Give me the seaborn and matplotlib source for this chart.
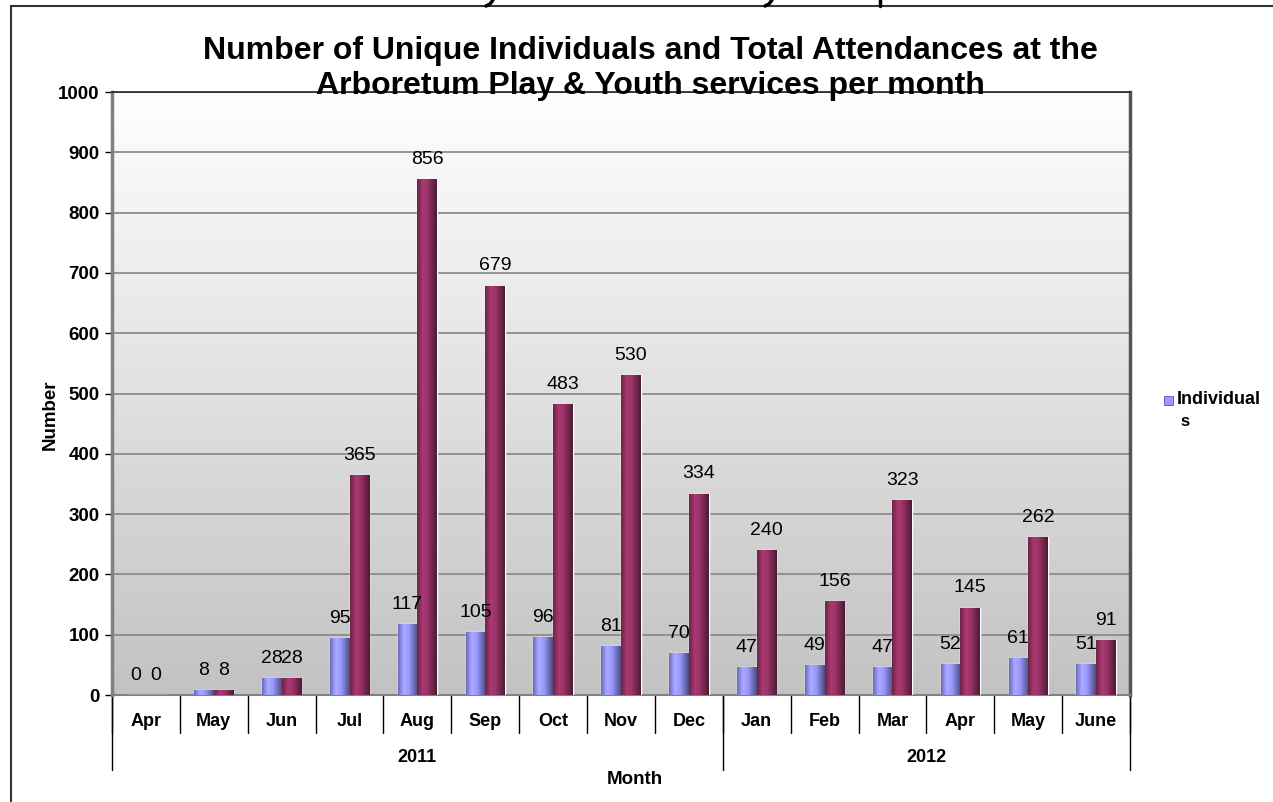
import numpy as np
import pandas as pd
import matplotlib
matplotlib.use("Agg")
import matplotlib.pyplot as plt
import seaborn as sns
from matplotlib.lines import Line2D
from matplotlib.patches import Rectangle
from matplotlib.colors import to_rgb, LinearSegmentedColormap

# ---- data ----
months = ['Apr', 'May', 'Jun', 'Jul', 'Aug', 'Sep', 'Oct', 'Nov', 'Dec',
          'Jan', 'Feb', 'Mar', 'Apr', 'May', 'June']
years = ['2011'] * 9 + ['2012'] * 6
individuals = [0, 8, 28, 95, 117, 105, 96, 81, 70, 47, 49, 47, 52, 61, 51]
attendances = [0, 8, 28, 365, 856, 679, 483, 530, 334, 240, 156, 323, 145, 262, 91]
year_labels = ['2011', '2012']

periods = [f'{m} {y}' for m, y in zip(months, years)]
df = pd.DataFrame({
    'Period': periods * 2,
    'Number': individuals + attendances,
    'Series': ['Individuals'] * len(periods) + ['Attendances'] * len(periods),
})

blue = '#9999ff'
maroon = '#993366'

sns.set_style('white')
plt.rcParams['font.family'] = ['Liberation Sans', 'DejaVu Sans']
plt.rcParams['text.color'] = 'black'
plt.rcParams['ytick.labelcolor'] = 'black'

W, H = 1273, 802
fig = plt.figure(figsize=(W / 100, H / 100), dpi=100)
ax = fig.add_axes([112 / W, 1 - 695 / H, (1130 - 112) / W, (695 - 92) / H])

sns.barplot(data=df, x='Period', y='Number', hue='Series', order=periods,
            hue_order=['Individuals', 'Attendances'], palette=[blue, maroon],
            width=0.58, ax=ax, legend=False, saturation=1, zorder=3)

# background gradient of the plot area
grad = np.linspace(1, 0, 256).reshape(-1, 1)
ax.imshow(grad, cmap=LinearSegmentedColormap.from_list('bg', ['#c2c2c2', '#ffffff']),
          aspect='auto', extent=[-0.5, len(periods) - 0.5, 0, 1000], zorder=0,
          origin='upper', vmin=0, vmax=1)
ax.set_xlim(-0.5, len(periods) - 0.5)
ax.set_ylim(0, 1000)

# cylinder-like shading on each bar
t = np.linspace(0, 1, 64)
shade = np.interp(t, [0, 0.3, 0.55, 1], [0.7, 1.12, 1.0, 0.5])
for cont, col in zip(ax.containers, [blue, maroon]):
    base = np.array(to_rgb(col))
    img = np.clip(shade[:, None] * base[None, :], 0, 1)[None, :, :]
    for p in cont.patches:
        x0, y0 = p.get_x(), p.get_y()
        w, h = p.get_width(), p.get_height()
        if h <= 0:
            continue
        im = ax.imshow(img, extent=[x0, x0 + w, y0, y0 + h], aspect='auto',
                       zorder=3.5, interpolation='bilinear')
        im.set_clip_path(p)
    ax.bar_label(cont, padding=8, fontsize=14, color='black', zorder=5)

# y axis
ax.set_yticks(range(0, 1001, 100))
ax.yaxis.grid(True, color='#8c8c8c', linewidth=1.3, zorder=1)
ax.set_axisbelow(True)
ax.tick_params(axis='y', which='both', left=True, length=5, width=1,
               direction='out', labelsize=13.5, pad=4, color='black',
               labelcolor='black')
for lab in ax.get_yticklabels():
    lab.set_fontweight('bold')
ax.set_ylabel('')
ax.set_xlabel('')
ax.set_xticks([])

for side in ['left', 'right', 'top', 'bottom']:
    ax.spines[side].set_visible(True)
ax.spines['top'].set_color('#222222')
ax.spines['top'].set_linewidth(1.2)
ax.spines['left'].set_color('#808080')
ax.spines['left'].set_linewidth(2.5)
ax.spines['right'].set_color('#555555')
ax.spines['right'].set_linewidth(2.5)
ax.spines['bottom'].set_color('#808080')
ax.spines['bottom'].set_linewidth(1.5)

# multi-level category axis
trans = ax.get_xaxis_transform()
ph = 695 - 92
for i, m in enumerate(months):
    ax.text(i, -(722 - 695) / ph, m, transform=trans, ha='center', va='center',
            fontsize=13, fontweight='bold')
for b in np.arange(-0.5, len(months), 1.0):
    ax.plot([b, b], [0, -(733 - 695) / ph], transform=trans, color='black',
            linewidth=1, clip_on=False)
year_bounds = [-0.5, 8.5, len(months) - 0.5]
for b in year_bounds:
    ax.plot([b, b], [0, -(770 - 695) / ph], transform=trans, color='black',
            linewidth=1, clip_on=False)
for k, yl in enumerate(year_labels):
    ax.text((year_bounds[k] + year_bounds[k + 1]) / 2, -(757 - 695) / ph, yl,
            transform=trans, ha='center', va='center', fontsize=13,
            fontweight='bold')

fig.text(635 / W, 1 - 779 / H, 'Month', ha='center', va='center',
         fontsize=13.5, fontweight='bold')
fig.text(50 / W, 1 - 415 / H, 'Number', ha='center', va='center',
         rotation=90, fontsize=13.5, fontweight='bold')

# title, two lines
fig.text(650 / W, 1 - 51 / H,
         'Number of Unique Individuals and Total Attendances at the',
         ha='center', va='center', fontsize=23, fontweight='bold')
fig.text(650 / W, 1 - 86 / H,
         'Arboretum Play & Youth services per month',
         ha='center', va='center', fontsize=23, fontweight='bold')

# legend (only the first entry is visible in the original)
fig.patches.append(Rectangle((1164 / W, 1 - 405 / H), 9 / W, 9 / H,
                             transform=fig.transFigure, facecolor=blue,
                             edgecolor='#5555aa', linewidth=0.6))
fig.text(1177 / W, 1 - 400 / H, 'Individual', ha='left', va='center',
         fontsize=13, fontweight='bold')
fig.text(1180 / W, 1 - 421 / H, 's', ha='left', va='center',
         fontsize=12, fontweight='bold')

# chart frame
fig.add_artist(Line2D([11 / W, 11 / W], [0, 1 - 6 / H], color='#333333',
                      linewidth=1.5, transform=fig.transFigure))
fig.add_artist(Line2D([11 / W, 1], [1 - 6 / H, 1 - 6 / H], color='#333333',
                      linewidth=1.5, transform=fig.transFigure))
# leftover strokes of a heading cut off above the frame
for xs, ys in [([493, 490, 486], [0, 4, 6]), ([772, 769, 765], [0, 4, 6]),
               ([880, 880], [0, 6])]:
    fig.add_artist(Line2D([x / W for x in xs], [1 - y / H for y in ys],
                          color='black', linewidth=2.5,
                          transform=fig.transFigure))

fig.savefig('out.png', dpi=100)
